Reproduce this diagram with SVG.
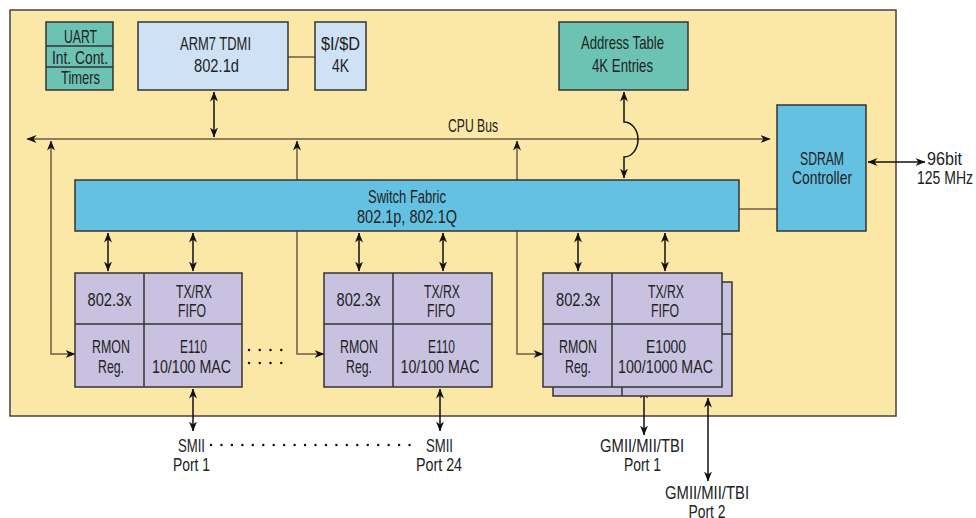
<svg xmlns="http://www.w3.org/2000/svg" width="976" height="518" viewBox="0 0 976 518">
<defs>
<style>
text{font-family:"Liberation Sans",Arial,sans-serif;font-size:19px;fill:#222;text-anchor:middle}
.box{stroke:#333;stroke-width:1.5}
.teal{fill:#6cc3b4}
.lblue{fill:#cfe2f5}
.blue{fill:#64c1e2}
.mac{fill:#c8c2e0}
.ln{fill:none;stroke:#6b5d45;stroke-width:1.5}
.ar{fill:none;stroke:#111;stroke-width:1.5}
.dots{fill:none;stroke:#111;stroke-width:2.5;stroke-linecap:round}
</style>
<marker id="ah" viewBox="0 0 10 8" refX="9.5" refY="4" markerWidth="10" markerHeight="8" markerUnits="userSpaceOnUse" orient="auto-start-reverse">
<path d="M0,0 L10,4 L0,8 L3,4 z" fill="#111"/>
</marker>
</defs>
<rect x="10" y="10" width="886" height="406" fill="#fce8a6" stroke="#444" stroke-width="1.5"/>
<g id="connectors">
<line class="ln" x1="288" y1="57" x2="315" y2="57"/>
<line class="ln" x1="27" y1="139" x2="770" y2="139" marker-start="url(#ah)" marker-end="url(#ah)"/>
<line class="ar" x1="214" y1="92" x2="214" y2="137" marker-start="url(#ah)" marker-end="url(#ah)"/>
<path class="ar" d="M624,92 L624,122 A14,17.5 0 0 1 624,157 L624,178" marker-start="url(#ah)" marker-end="url(#ah)"/>
<polyline class="ln" points="297,180 297,141" marker-end="url(#ah)"/>
<polyline class="ln" points="517,180 517,141" marker-end="url(#ah)"/>
<polyline class="ln" points="51,141 51,354 75,354" marker-start="url(#ah)" marker-end="url(#ah)"/>
<polyline class="ln" points="297,231 297,354 324,354" marker-end="url(#ah)"/>
<polyline class="ln" points="517,231 517,354 543,354" marker-end="url(#ah)"/>
<line class="ln" x1="739" y1="209" x2="777" y2="209"/>
<line class="ar" x1="868" y1="162" x2="925" y2="162" marker-start="url(#ah)" marker-end="url(#ah)"/>
<line class="ar" x1="108" y1="233" x2="108" y2="271" marker-start="url(#ah)" marker-end="url(#ah)"/>
<line class="ar" x1="193" y1="233" x2="193" y2="271" marker-start="url(#ah)" marker-end="url(#ah)"/>
<line class="ar" x1="359" y1="233" x2="359" y2="271" marker-start="url(#ah)" marker-end="url(#ah)"/>
<line class="ar" x1="443" y1="233" x2="443" y2="271" marker-start="url(#ah)" marker-end="url(#ah)"/>
<line class="ar" x1="578" y1="233" x2="578" y2="271" marker-start="url(#ah)" marker-end="url(#ah)"/>
<line class="ar" x1="665" y1="233" x2="665" y2="271" marker-start="url(#ah)" marker-end="url(#ah)"/>
<line class="ar" x1="193" y1="389" x2="193" y2="431" marker-start="url(#ah)" marker-end="url(#ah)"/>
<line class="ar" x1="440" y1="389" x2="440" y2="431" marker-start="url(#ah)" marker-end="url(#ah)"/>
<line class="ar" x1="644" y1="389" x2="644" y2="435" marker-start="url(#ah)" marker-end="url(#ah)"/>
<line class="ar" x1="708" y1="398" x2="708" y2="481" stroke="#666" marker-start="url(#ah)" marker-end="url(#ah)"/>
<line class="dots" x1="249" y1="350" x2="292" y2="350" stroke-width="2" stroke-dasharray="0 10.75"/>
<line class="dots" x1="249" y1="363" x2="292" y2="363" stroke-dasharray="0 10.75"/>
<line class="dots" x1="211" y1="445" x2="420" y2="445" stroke-dasharray="0 10.45"/>
</g>
<g id="periph">
<rect class="box teal" x="46" y="22" width="67" height="68"/>
<line class="box" x1="46" y1="46" x2="113" y2="46"/>
<line class="box" x1="46" y1="67" x2="113" y2="67"/>
<text x="80.5" y="43" textLength="33" lengthAdjust="spacingAndGlyphs">UART</text>
<text x="80" y="64" textLength="56" lengthAdjust="spacingAndGlyphs">Int. Cont.</text>
<text x="80.5" y="84" textLength="39" lengthAdjust="spacingAndGlyphs">Timers</text>
</g>
<g id="arm7">
<rect class="box lblue" x="138" y="22" width="150" height="68"/>
<text x="215.5" y="50" textLength="71" lengthAdjust="spacingAndGlyphs">ARM7 TDMI</text>
<text x="216.5" y="72" textLength="45" lengthAdjust="spacingAndGlyphs">802.1d</text>
</g>
<g id="cache">
<rect class="box lblue" x="315" y="22" width="51" height="68"/>
<text x="340.5" y="50" textLength="39" lengthAdjust="spacingAndGlyphs">$I/$D</text>
<text x="340.5" y="72" textLength="17" lengthAdjust="spacingAndGlyphs">4K</text>
</g>
<g id="addr-table">
<rect class="box teal" x="559" y="22" width="129" height="68"/>
<text x="622.5" y="49" textLength="83" lengthAdjust="spacingAndGlyphs">Address Table</text>
<text x="622.5" y="72" textLength="61" lengthAdjust="spacingAndGlyphs">4K Entries</text>
</g>
<g id="cpu-bus">
<text x="473" y="132" textLength="50" lengthAdjust="spacingAndGlyphs">CPU Bus</text>
</g>
<g id="sdram">
<rect class="box blue" x="777" y="105" width="89" height="126"/>
<text x="822" y="165" textLength="44" lengthAdjust="spacingAndGlyphs">SDRAM</text>
<text x="822" y="184" textLength="60" lengthAdjust="spacingAndGlyphs">Controller</text>
</g>
<g id="sdram-ext">
<text x="944.5" y="165" textLength="35" lengthAdjust="spacingAndGlyphs">96bit</text>
<text x="945" y="184" textLength="56" lengthAdjust="spacingAndGlyphs">125 MHz</text>
</g>
<g id="switch-fabric">
<rect class="box blue" x="75" y="180" width="664" height="51"/>
<text x="407" y="203" textLength="78" lengthAdjust="spacingAndGlyphs">Switch Fabric</text>
<text x="407" y="223" textLength="100" lengthAdjust="spacingAndGlyphs">802.1p, 802.1Q</text>
</g>
<g id="mac1">
<rect class="box mac" x="75" y="273" width="167" height="114"/>
<line class="box" x1="144" y1="273" x2="144" y2="387"/>
<line class="box" x1="75" y1="324" x2="242" y2="324"/>
<text x="109.5" y="306" textLength="44" lengthAdjust="spacingAndGlyphs">802.3x</text>
<text x="194" y="298" textLength="36" lengthAdjust="spacingAndGlyphs">TX/RX</text>
<text x="192" y="317" textLength="28" lengthAdjust="spacingAndGlyphs">FIFO</text>
<text x="111" y="353" textLength="38" lengthAdjust="spacingAndGlyphs">RMON</text>
<text x="111" y="373" textLength="26" lengthAdjust="spacingAndGlyphs">Reg.</text>
<text x="193.5" y="353" textLength="27" lengthAdjust="spacingAndGlyphs">E110</text>
<text x="191.5" y="373" textLength="79" lengthAdjust="spacingAndGlyphs">10/100 MAC</text>
</g>
<g id="mac24">
<rect class="box mac" x="324" y="273" width="168" height="114"/>
<line class="box" x1="393" y1="273" x2="393" y2="387"/>
<line class="box" x1="324" y1="324" x2="492" y2="324"/>
<text x="358.5" y="306" textLength="44" lengthAdjust="spacingAndGlyphs">802.3x</text>
<text x="442" y="298" textLength="36" lengthAdjust="spacingAndGlyphs">TX/RX</text>
<text x="441" y="317" textLength="28" lengthAdjust="spacingAndGlyphs">FIFO</text>
<text x="359" y="353" textLength="38" lengthAdjust="spacingAndGlyphs">RMON</text>
<text x="359" y="373" textLength="26" lengthAdjust="spacingAndGlyphs">Reg.</text>
<text x="441.5" y="353" textLength="27" lengthAdjust="spacingAndGlyphs">E110</text>
<text x="440" y="373" textLength="79" lengthAdjust="spacingAndGlyphs">10/100 MAC</text>
</g>
<g id="mac-gig">
<rect class="box mac" x="553" y="282" width="179" height="114"/>
<line class="box" x1="622" y1="387" x2="622" y2="396"/>
<line class="box" x1="722" y1="334" x2="732" y2="334"/>
<rect class="box mac" x="543" y="273" width="179" height="114"/>
<line class="box" x1="612" y1="273" x2="612" y2="387"/>
<line class="box" x1="543" y1="324" x2="722" y2="324"/>
<text x="578" y="306" textLength="44" lengthAdjust="spacingAndGlyphs">802.3x</text>
<text x="666" y="298" textLength="36" lengthAdjust="spacingAndGlyphs">TX/RX</text>
<text x="665" y="317" textLength="28" lengthAdjust="spacingAndGlyphs">FIFO</text>
<text x="578" y="353" textLength="38" lengthAdjust="spacingAndGlyphs">RMON</text>
<text x="578" y="373" textLength="26" lengthAdjust="spacingAndGlyphs">Reg.</text>
<text x="666" y="353" textLength="40" lengthAdjust="spacingAndGlyphs">E1000</text>
<text x="665.5" y="373" textLength="95" lengthAdjust="spacingAndGlyphs">100/1000 MAC</text>
</g>
<g id="port-labels">
<text x="191.5" y="452" textLength="27" lengthAdjust="spacingAndGlyphs">SMII</text>
<text x="191.5" y="471" textLength="37" lengthAdjust="spacingAndGlyphs">Port 1</text>
<text x="439.5" y="452" textLength="27" lengthAdjust="spacingAndGlyphs">SMII</text>
<text x="439" y="471" textLength="46" lengthAdjust="spacingAndGlyphs">Port 24</text>
<text x="642" y="452" textLength="84" lengthAdjust="spacingAndGlyphs">GMII/MII/TBI</text>
<text x="642.5" y="471" textLength="37" lengthAdjust="spacingAndGlyphs">Port 1</text>
<text x="707" y="499" textLength="84" lengthAdjust="spacingAndGlyphs">GMII/MII/TBI</text>
<text x="707" y="518" textLength="37" lengthAdjust="spacingAndGlyphs">Port 2</text>
</g>
</svg>
